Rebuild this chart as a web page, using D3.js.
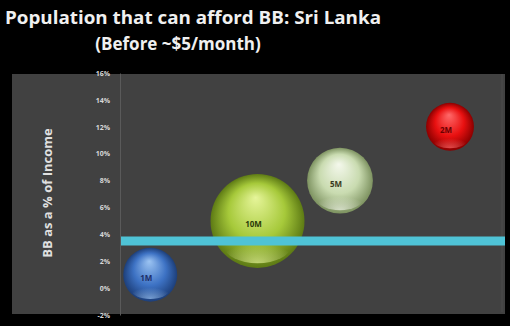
<!DOCTYPE html>
<html><head><meta charset="utf-8">
<script src="https://cdn.jsdelivr.net/npm/d3@7"></script>
<style>html,body{margin:0;padding:0;background:#000;}svg{display:block;}</style>
</head><body>
<script>
const labels = ["1M", "10M", "5M", "2M"];
const xValues = [1.1, 5, 8, 12];
const yValues = [1.0, 5.0, 8.0, 12.0];
const bubbleSizes = [3.3, 10, 4.9, 2.6];
const colors = [
  ["#9cc4f2", "#3d72c4", "#1d3f7a"],
  ["#e6f59a", "#a6c93a", "#5d7a14"],
  ["#f4f8ec", "#c9dbb0", "#7d9260"],
  ["#ff6a6a", "#e81010", "#8a0000"]
];
const labelColors = ["#1d2f6a", "#2a3a08", "#3a3a20", "#6a0000"];
const yTicks = [-2, 0, 2, 4, 6, 8, 10, 12, 14, 16];
const threshold = 3.5;

const W = 510, H = 326;
const svg = d3.select("body").append("svg").attr("width", W).attr("height", H);
svg.append("rect").attr("width", W).attr("height", H).attr("fill", "#000");

const plot = {x0: 12, y0: 74, x1: 505, y1: 314};
svg.append("rect").attr("x", plot.x0).attr("y", plot.y0)
  .attr("width", plot.x1 - plot.x0).attr("height", plot.y1 - plot.y0).attr("fill", "#414141");

const x = d3.scaleLinear().domain([0, 14]).range([120, 505]);
const y = d3.scaleLinear().domain([-2, 16]).range([315, 73]);
const r = d3.scaleSqrt().domain([0, 10]).range([0, 47]);

// y axis
const ax = svg.append("g").attr("transform", "translate(120,0)")
  .call(d3.axisLeft(y).tickValues(yTicks).tickFormat(d => d + "%").tickSize(0).tickPadding(10));
ax.select(".domain").attr("stroke", "#5a5a5a");
ax.selectAll("text").attr("fill", "#d8d8d8").attr("font-family", "Open Sans, sans-serif")
  .attr("font-size", 7).attr("font-weight", "bold");
svg.append("line").attr("x1", 502).attr("x2", 502).attr("y1", plot.y0).attr("y2", plot.y1 - 2)
  .attr("stroke", "#4c4c4c");

// title
svg.append("text").attr("x", 5).attr("y", 24).text("Population that can afford BB: Sri Lanka")
  .attr("fill", "#f0f0f0").attr("font-family", "Open Sans, sans-serif").attr("font-weight", "bold")
  .attr("font-size", 17).attr("textLength", 376).attr("lengthAdjust", "spacingAndGlyphs");
svg.append("text").attr("x", 178).attr("y", 50).attr("text-anchor", "middle").text("(Before ~$5/month)")
  .attr("fill", "#f0f0f0").attr("font-family", "Open Sans, sans-serif").attr("font-weight", "bold")
  .attr("font-size", 17);

// y title
svg.append("text").attr("transform", "translate(52,193) rotate(-90)").attr("text-anchor", "middle")
  .text("BB as a % of Income").attr("fill", "#e0e0e0").attr("font-family", "Open Sans, sans-serif")
  .attr("font-weight", "bold").attr("font-size", 13);

// gradients
const defs = svg.append("defs");
colors.forEach((c, i) => {
  const g = defs.append("radialGradient").attr("id", "g" + i)
    .attr("cx", "50%").attr("cy", "50%").attr("r", "50%").attr("fx", "48%").attr("fy", "25%");
  g.append("stop").attr("offset", "0%").attr("stop-color", c[0]);
  g.append("stop").attr("offset", "60%").attr("stop-color", c[1]);
  g.append("stop").attr("offset", "100%").attr("stop-color", c[2]);
  const s = defs.append("radialGradient").attr("id", "s" + i)
    .attr("cx", "50%").attr("cy", "100%").attr("r", "60%");
  s.append("stop").attr("offset", "0%").attr("stop-color", c[0]).attr("stop-opacity", 0.7);
  s.append("stop").attr("offset", "100%").attr("stop-color", c[0]).attr("stop-opacity", 0);
});

const data = labels.map((l, i) => ({l, x: xValues[i], y: yValues[i], s: bubbleSizes[i], i}));
const b = svg.append("g").selectAll("g").data(data).join("g")
  .attr("transform", d => `translate(${x(d.x)},${y(d.y)})`);
b.append("circle").attr("r", d => r(d.s)).attr("fill", d => `url(#g${d.i})`);
b.append("ellipse").attr("cy", d => r(d.s) * 0.55).attr("rx", d => r(d.s) * 0.7).attr("ry", d => r(d.s) * 0.35)
  .attr("fill", d => `url(#s${d.i})`);
b.append("text").attr("x", -4).attr("y", 6).attr("text-anchor", "middle").text(d => d.l)
  .attr("fill", (d, i) => labelColors[i]).attr("font-family", "Open Sans, sans-serif")
  .attr("font-weight", "bold").attr("font-size", 8);

// threshold line
svg.append("line").attr("x1", 121).attr("x2", 505).attr("y1", y(threshold)).attr("y2", y(threshold))
  .attr("stroke", "#4fc3d6").attr("stroke-width", 9);
</script>
</body></html>
